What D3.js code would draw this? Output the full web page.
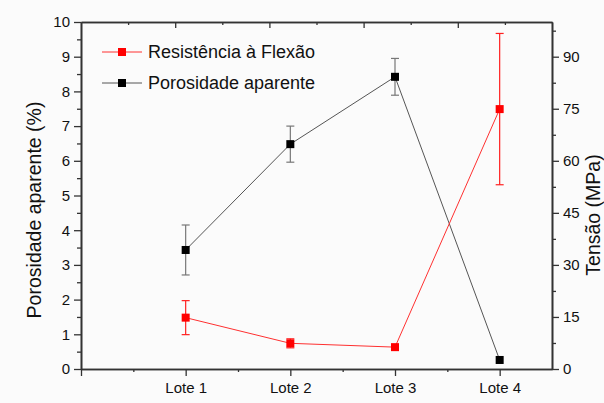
<!DOCTYPE html>
<html>
<head>
<meta charset="utf-8">
<script src="https://cdn.jsdelivr.net/npm/d3@7"></script>
<style>
  body { margin: 0; background: #fbfbfb; }
  svg { display: block; font-family: "Liberation Sans", Arial, sans-serif; }
  .axis path, .axis line { stroke: #333; }
  .axis path { stroke-width: 1.6px; }
  .axis line { stroke-width: 1.3px; }
  .axis text { fill: #111; font-size: 15px; }
</style>
</head>
<body>
<svg id="chart"></svg>
<script>
const lotes = ["Lote 1", "Lote 2", "Lote 3", "Lote 4"];
const porosidade = [3.43, 6.48, 8.42, 0.26];
const porosidadeErr = [0.72, 0.52, 0.53, 0];
const resistencia = [14.8, 7.4, 6.3, 74.9];
const resistenciaErr = [4.9, 1.3, 0.3, 21.8];
const leftTicks = [0, 1, 2, 3, 4, 5, 6, 7, 8, 9, 10];
const rightTicks = [0, 15, 30, 45, 60, 75, 90];

const W = 604, H = 403;
const M = { top: 22, right: 52, bottom: 34, left: 81 };
const innerW = W - M.left - M.right;
const innerH = H - M.top - M.bottom;

const svg = d3.select("#chart").attr("width", W).attr("height", H);
const g = svg.append("g").attr("transform", `translate(${M.left},${M.top})`);

/* Scales */
const x = d3.scaleLinear().domain([0, 4.5]).range([0, innerW]);
const xTop = d3.scaleLinear().domain([0, 5]).range([0, innerW]);
const yLeft = d3.scaleLinear().domain([0, 10]).range([innerH, 0]);
const yRight = d3.scaleLinear().domain([0, 100]).range([innerH, 0]);

/* Minor ticks first, then major axes */
g.append("g").attr("class", "axis")
    .attr("transform", `translate(0,${innerH})`)
    .call(d3.axisBottom(x).tickValues([0.5, 1.5, 2.5, 3.5]).tickSize(3).tickSizeOuter(0).tickFormat(""));
g.append("g").attr("class", "axis")
    .attr("transform", `translate(0,${innerH})`)
    .call(d3.axisBottom(x).tickValues([0, 1, 2, 3, 4]).tickSize(7).tickSizeOuter(0).tickPadding(6)
        .tickFormat(d => d >= 1 ? lotes[d - 1] : ""));

g.append("g").attr("class", "axis")
    .call(d3.axisTop(xTop).tickValues([0.5, 1.5, 2.5, 3.5, 4.5]).tickSize(-3).tickSizeOuter(0).tickFormat(""));
g.append("g").attr("class", "axis")
    .call(d3.axisTop(xTop).tickValues([1, 2, 3, 4]).tickSize(-6).tickSizeOuter(0).tickFormat(""));

g.append("g").attr("class", "axis")
    .call(d3.axisLeft(yLeft).tickValues(d3.range(0.5, 10, 1)).tickSize(4).tickSizeOuter(0).tickFormat(""));
g.append("g").attr("class", "axis")
    .call(d3.axisLeft(yLeft).tickValues(leftTicks).tickSize(7).tickSizeOuter(0).tickPadding(4));

g.append("g").attr("class", "axis")
    .attr("transform", `translate(${innerW},0)`)
    .call(d3.axisRight(yRight).tickValues(d3.range(7.5, 100, 15)).tickSize(4).tickSizeOuter(0).tickFormat(""));
g.append("g").attr("class", "axis")
    .attr("transform", `translate(${innerW},0)`)
    .call(d3.axisRight(yRight).tickValues(rightTicks).tickSize(7).tickSizeOuter(0).tickPadding(4));

/* Axis titles */
svg.append("text")
    .attr("transform", "translate(34,210) rotate(-90)")
    .attr("text-anchor", "middle").attr("dy", "0.35em")
    .style("font-size", "19.5px").attr("fill", "#111")
    .text("Porosidade aparente (%)");
svg.append("text")
    .attr("transform", "translate(593,215) rotate(-90)")
    .attr("text-anchor", "middle").attr("dy", "0.35em")
    .style("font-size", "19.5px").attr("fill", "#111")
    .text("Tensão (MPa)");

/* Series */
const series = [
    { name: "Porosidade aparente", values: porosidade, err: porosidadeErr, y: yLeft,
      color: "#000", line: "#555", errColor: "#777" },
    { name: "Resistência à Flexão", values: resistencia, err: resistenciaErr, y: yRight,
      color: "#ff0000", line: "#ff3030", errColor: "#ff2020" }
];

series.forEach(s => {
    const pts = s.values.map((v, i) => ({ x: i + 1, v: v, e: s.err[i] }));
    const line = d3.line().x(d => x(d.x)).y(d => s.y(d.v));

    g.append("path")
        .attr("d", line(pts))
        .attr("fill", "none")
        .attr("stroke", s.line)
        .attr("stroke-width", 1);

    const eb = g.append("g").attr("stroke", s.errColor).attr("stroke-width", 1.2);
    pts.filter(d => d.e > 0).forEach(d => {
        const cx = x(d.x), y1 = s.y(d.v + d.e), y2 = s.y(d.v - d.e);
        eb.append("line").attr("x1", cx).attr("x2", cx).attr("y1", y1).attr("y2", y2);
        eb.append("line").attr("x1", cx - 4).attr("x2", cx + 4).attr("y1", y1).attr("y2", y1);
        eb.append("line").attr("x1", cx - 4).attr("x2", cx + 4).attr("y1", y2).attr("y2", y2);
    });

    g.append("g").selectAll("rect")
        .data(pts).enter()
        .append("rect")
        .attr("x", d => x(d.x) - 4)
        .attr("y", d => s.y(d.v) - 4)
        .attr("width", 8)
        .attr("height", 8)
        .attr("fill", s.color);
});

/* Legend */
const legend = svg.append("g").attr("transform", "translate(102,52)");
[series[1], series[0]].forEach((s, i) => {
    const row = legend.append("g").attr("transform", `translate(0,${i * 31})`);
    row.append("line").attr("x1", 0).attr("x2", 40).attr("y1", 0).attr("y2", 0)
        .attr("stroke", s.line).attr("stroke-width", 1);
    row.append("rect").attr("x", 16).attr("y", -4).attr("width", 8).attr("height", 8).attr("fill", s.color);
    row.append("text").attr("x", 46).attr("dy", "0.35em")
        .style("font-size", "18px").attr("fill", "#111")
        .text(s.name);
});
</script>
</body>
</html>
